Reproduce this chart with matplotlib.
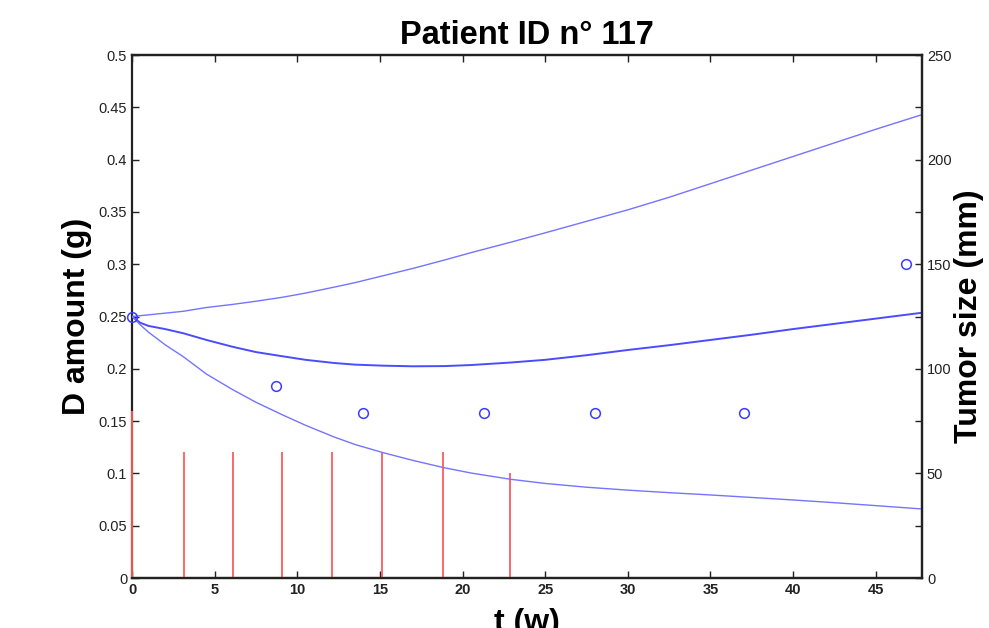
import matplotlib
matplotlib.use("Agg")
import matplotlib.pyplot as plt
from matplotlib.ticker import MultipleLocator

plt.rcParams['font.family'] = ['Liberation Sans', 'DejaVu Sans']

# ---- data ----
dose_t = [0, 3.15, 6.1, 9.1, 12.1, 15.15, 18.8, 22.85]
dose_g = [0.16, 0.12, 0.12, 0.12, 0.12, 0.12, 0.12, 0.10]

t_curve = [0, 0.5, 1, 2, 3.1, 4.5, 6.1, 7.5, 9.1, 10.5, 12.2, 13.5, 15.2, 17, 18.9,
           20.5, 22.9, 25, 27.5, 30, 32.5, 35, 37.5, 40, 42.5, 45, 47.8]
upper = [125, 125.4, 125.8, 126.6, 127.5, 129.3, 130.8, 132.3, 134.2, 136.2, 139.0,
         141.2, 144.5, 148, 152, 155.5, 160.5, 165, 170.5, 176, 182, 188.5, 195,
         201.5, 208, 214.5, 221.5]
middle = [125, 122, 120.5, 119, 117, 113.8, 110.5, 108, 106, 104.3, 102.8, 102,
          101.5, 101.2, 101.3, 101.8, 103, 104.3, 106.5, 109, 111.3, 113.8, 116.3,
          119, 121.5, 124, 126.8]
lower = [125, 121, 117.5, 111.5, 105.8, 97.5, 90, 84, 78, 73, 67.5, 63.8, 59.9, 56.2,
         52.7, 50.2, 47.2, 45.2, 43.4, 42, 40.8, 39.7, 38.5, 37.3, 36, 34.6, 33]

obs_t = [0, 8.7, 14.0, 21.3, 28.0, 37.0, 46.8]
obs_size = [125, 92, 79, 79, 79, 79, 150]

x_ticks = [0, 5, 10, 15, 20, 25, 30, 35, 40, 45]
left_ticks = [0, 0.05, 0.1, 0.15, 0.2, 0.25, 0.3, 0.35, 0.4, 0.45, 0.5]
left_labels = ['0', '0.05', '0.1', '0.15', '0.2', '0.25', '0.3', '0.35', '0.4', '0.45', '0.5']
right_ticks = [0, 50, 100, 150, 200, 250]

# ---- figure ----
fig = plt.figure(figsize=(9.89, 6.28), dpi=100)
ax = fig.add_axes([0.1335, 0.0796, 0.7988, 0.8328])
ax2 = ax.twinx()
ax2.spines['left'].set_visible(False)

ax.vlines(dose_t, 0, dose_g, colors='#ff5a5a', linewidth=1.3, zorder=3, clip_on=False)

ax2.plot(t_curve, upper, color='#7474ff', linewidth=1.0)
ax2.plot(t_curve, middle, color='#4b4bff', linewidth=1.4)
ax2.plot(t_curve, lower, color='#7474ff', linewidth=1.0)
ax2.plot(obs_t, obs_size, linestyle='none', marker='o', markersize=7,
         markerfacecolor='none', markeredgecolor='#3c3cff', markeredgewidth=1.1,
         clip_on=False)

ax.set_xlim(0, 47.8)
ax.set_ylim(0, 0.5)
ax2.set_ylim(0, 250)

ax.set_xticks(x_ticks)
ax.set_xticklabels([str(v) for v in x_ticks], fontweight='bold', fontsize=10.5)
ax.set_yticks(left_ticks)
ax.set_yticklabels(left_labels, fontsize=10.5)
ax2.set_yticks(right_ticks)
ax2.set_yticklabels([str(v) for v in right_ticks], fontsize=10.5)
ax2.yaxis.set_minor_locator(MultipleLocator(25))

ax.tick_params(axis='x', direction='in', length=5, width=1, top=True, colors='#222222')
ax.tick_params(axis='y', direction='in', length=5, width=1, colors='#222222')
ax2.tick_params(axis='y', which='both', direction='in', length=5, width=1, colors='#222222')

for a in (ax, ax2):
    for s in a.spines.values():
        s.set_linewidth(1.6)
        s.set_color('#222222')

ax.set_title('Patient ID n° 117', fontsize=23.5, fontweight='bold', pad=8)
ax.set_ylabel('D amount (g)', fontsize=23, fontweight='bold', labelpad=5)
ax2.set_ylabel('Tumor size (mm)', fontsize=23, fontweight='bold', labelpad=2)
ax.set_xlabel('t (w)', fontsize=23, fontweight='bold', labelpad=8)

fig.savefig('out.png', dpi=100)
